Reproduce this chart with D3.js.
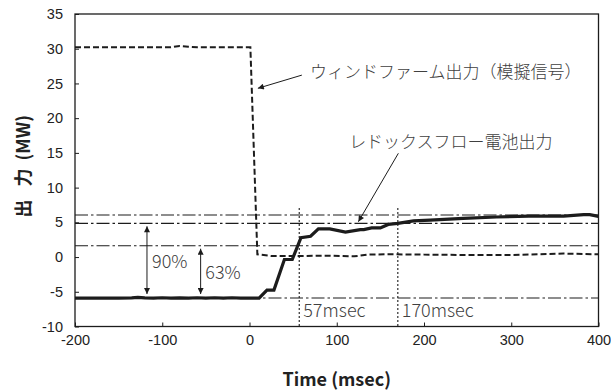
<!DOCTYPE html>
<html>
<head>
<meta charset="utf-8">
<script src="https://cdn.jsdelivr.net/npm/d3@7"></script>
<style>
  body { margin: 0; background: #fff; }
  svg { display: block; }
</style>
</head>
<body>
<svg id="chart" width="611" height="392"></svg>
<script>
// Axis ticks
const xTicks = [-200, -100, 0, 100, 200, 300, 400];
const yTicks = [-10, -5, 0, 5, 10, 15, 20, 25, 30, 35];

// Wind farm output (simulated signal), MW vs msec
const windTime = [-200, -90, -80, -70, -60, 1, 9, 25, 55, 90, 120, 135, 160, 200, 250, 300, 360, 400];
const windMW   = [30.2, 30.2, 30.4, 30.3, 30.2, 30.2, 0.4, 0.15, 0.15, 0.2, 0.1, 0.35, 0.4, 0.35, 0.3, 0.3, 0.5, 0.4];

// Redox flow battery output, MW vs msec
const batteryTime = [-200, -150, -135, -128, -120, -110, -100, -90, -80, -70, -60, -50, -40, -30, -20, -10, 0, 11, 20, 28, 40, 49, 59, 70, 79, 92, 110, 127, 131, 140, 150, 159, 170, 188, 207, 245, 283, 320, 360, 383, 390, 400];
const batteryMW   = [-5.9, -5.9, -5.88, -5.82, -5.88, -5.92, -5.86, -5.92, -5.87, -5.91, -5.86, -5.92, -5.86, -5.9, -5.86, -5.9, -5.9, -5.9, -4.75, -4.75, -0.35, -0.35, 2.8, 3.0, 4.05, 4.05, 3.6, 3.95, 3.95, 4.2, 4.2, 4.7, 4.85, 5.2, 5.33, 5.57, 5.77, 5.9, 5.9, 6.1, 6.1, 5.85];

// Response levels
const baseMW = -5.9;
const finalMW = 6.05;
const levelPct = [90, 63];
const levelArrowTime = [-117.5, -56];
const responseTimes = [57, 170];

const svg = d3.select("#chart");
const W = 611, H = 392;
const plotL = 75, plotR = 598.5, plotT = 14, plotB = 326.5;

const x = d3.scaleLinear().domain([-200, 400]).range([plotL, plotR]);
const y = d3.scaleLinear().domain([-10, 35]).range([plotB, plotT]);

const ink = "#1c1c1c";
const textInk = "#404040";
const jpFont = "'Noto Sans CJK JP', 'Noto Sans', sans-serif";
const numFont = "'Liberation Sans', Arial, sans-serif";

svg.append("rect").attr("width", W).attr("height", H).attr("fill", "#fff");

// Arrowhead marker
const defs = svg.append("defs");
defs.append("marker")
  .attr("id", "head")
  .attr("viewBox", "0 0 10 10")
  .attr("refX", 10).attr("refY", 5)
  .attr("markerUnits", "userSpaceOnUse")
  .attr("markerWidth", 10).attr("markerHeight", 6)
  .attr("orient", "auto-start-reverse")
  .append("path").attr("d", "M0,0 L10,5 L0,10 Z").attr("fill", ink);

// Axes (ticks point inward, plain hyphen for negatives)
const plain = d => String(d);
const gx = svg.append("g")
  .attr("transform", `translate(0,${plotB})`)
  .call(d3.axisBottom(x).tickValues(xTicks).tickFormat(plain).tickSize(-4).tickPadding(8).tickSizeOuter(0));
const gy = svg.append("g")
  .attr("transform", `translate(${plotL},0)`)
  .call(d3.axisLeft(y).tickValues(yTicks).tickFormat(plain).tickSize(-4).tickPadding(12).tickSizeOuter(0));
[gx, gy].forEach(g => {
  g.select(".domain").remove();
  g.selectAll(".tick line").attr("stroke", ink).attr("stroke-width", 1);
  g.selectAll(".tick text").attr("fill", "#222").style("font-family", numFont).style("font-size", "14.5px");
});

// Reference levels: final, 90%, 63%, base
const levels = [finalMW, ...levelPct.map(p => baseMW + (finalMW - baseMW) * p / 100), baseMW];
svg.append("g").selectAll("line").data(levels).join("line")
  .attr("x1", plotL).attr("x2", plotR)
  .attr("y1", d => y(d)).attr("y2", d => y(d))
  .attr("stroke", ink).attr("stroke-width", 1.1)
  .attr("stroke-dasharray", "13,3,2.5,3");

// Response time markers
const yMarkTop = 7.05;
svg.append("g").selectAll("line").data(responseTimes).join("line")
  .attr("x1", d => x(d)).attr("x2", d => x(d))
  .attr("y1", y(yMarkTop)).attr("y2", plotB)
  .attr("stroke", ink).attr("stroke-width", 1.1)
  .attr("stroke-dasharray", "2,2");
svg.append("g").selectAll("text").data(responseTimes).join("text")
  .attr("x", d => x(d) + 4).attr("y", y(-8.6))
  .attr("fill", textInk)
  .style("font-family", jpFont).style("font-size", "18px").style("font-weight", "300")
  .text(d => `${d}msec`);

// Series
const line = d3.line().x(d => x(d[0])).y(d => y(d[1]));
svg.append("path")
  .datum(windTime.map((t, i) => [t, windMW[i]]))
  .attr("d", line).attr("fill", "none")
  .attr("stroke", ink).attr("stroke-width", 2)
  .attr("stroke-dasharray", "6,3");
svg.append("path")
  .datum(batteryTime.map((t, i) => [t, batteryMW[i]]))
  .attr("d", line).attr("fill", "none")
  .attr("stroke", ink).attr("stroke-width", 3.2)
  .attr("stroke-linejoin", "miter");

// Level arrows (double-headed) with percentage labels
levelPct.forEach((p, i) => {
  const lv = baseMW + (finalMW - baseMW) * p / 100;
  const ax = x(levelArrowTime[i]);
  svg.append("line")
    .attr("x1", ax).attr("x2", ax)
    .attr("y1", y(lv) + 3).attr("y2", y(baseMW) - 4)
    .attr("stroke", ink).attr("stroke-width", 1)
    .attr("marker-start", "url(#head)").attr("marker-end", "url(#head)");
});
const pctLabelPos = [[-111.7, -1.55], [-50.7, -3.2]];
levelPct.forEach((p, i) => {
  svg.append("text")
    .attr("x", x(pctLabelPos[i][0])).attr("y", y(pctLabelPos[i][1]))
    .attr("fill", textInk)
    .style("font-family", jpFont).style("font-size", "18px").style("font-weight", "300")
    .text(`${p}%`);
});

// Series callouts
const callouts = [
  { text: "ウィンドファーム出力（模擬信号）", at: [69.3, 25.8], from: [60, 26.2], to: [9.6, 24.3] },
  { text: "レドックスフロー電池出力", at: [114.2, 15.75], from: [170.6, 14.94], to: [124.8, 5.09] }
];
callouts.forEach(c => {
  svg.append("line")
    .attr("x1", x(c.from[0])).attr("y1", y(c.from[1]))
    .attr("x2", x(c.to[0])).attr("y2", y(c.to[1]))
    .attr("stroke", ink).attr("stroke-width", 1)
    .attr("marker-end", "url(#head)");
  svg.append("text")
    .attr("x", x(c.at[0])).attr("y", y(c.at[1]))
    .attr("fill", textInk)
    .style("font-family", jpFont).style("font-size", "17px").style("font-weight", "300")
    .text(c.text);
});

// Plot frame
svg.append("rect")
  .attr("x", plotL).attr("y", plotT)
  .attr("width", plotR - plotL).attr("height", plotB - plotT)
  .attr("fill", "none").attr("stroke", ink).attr("stroke-width", 1.3);

// Axis titles
svg.append("text")
  .attr("x", (plotL + plotR) / 2).attr("y", 386)
  .attr("text-anchor", "middle")
  .attr("fill", "#222")
  .style("font-family", jpFont).style("font-size", "18px").style("font-weight", "bold")
  .text("Time (msec)");

const yTitle = svg.append("text")
  .attr("transform", `translate(30,${(plotT + plotB) / 2 - 4}) rotate(-90)`)
  .attr("text-anchor", "middle")
  .attr("fill", "#222")
  .style("font-family", jpFont).style("font-size", "18px").style("font-weight", "bold");
yTitle.append("tspan").text("出");
yTitle.append("tspan").attr("dx", 13).text("力");
yTitle.append("tspan").attr("dx", 8).text("(MW)");
</script>
</body>
</html>
